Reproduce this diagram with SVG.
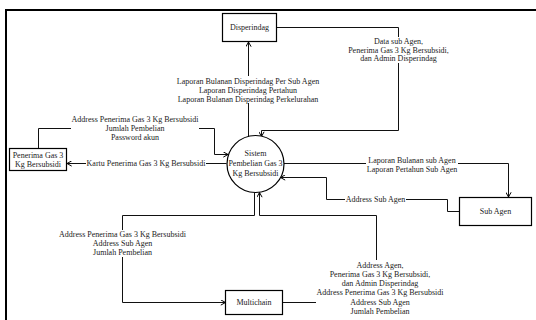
<svg xmlns="http://www.w3.org/2000/svg" width="536" height="320" viewBox="0 0 536 320">
  <defs>
    <marker id="open" viewBox="0 0 6 6" refX="5.5" refY="3" markerWidth="6" markerHeight="6" markerUnits="userSpaceOnUse" orient="auto">
      <path d="M0.8,0.4 L5.5,3 L0.8,5.6" fill="none" stroke="#000" stroke-width="1"/>
    </marker>
    <style>
      .box { fill: #fff; stroke: #000; stroke-width: 1.2; }
      .flow { fill: none; stroke: #111; stroke-width: 1; }
      .arrow { marker-end: url(#open); }
      .bg { fill: #fff; stroke: none; }
      text { font-family: "Liberation Serif", "Times New Roman", serif; font-size: 8px; fill: #1a1a1a; text-anchor: middle; }
    </style>
  </defs>
  <rect width="536" height="320" fill="#fff"/>
  <!-- page frame -->
  <path d="M6,321 V10 H537" fill="none" stroke="#000" stroke-width="2"/>

  <g id="connectors">
    <!-- Sistem -> Disperindag -->
    <path class="flow arrow" d="M248.5,137 V42"/>
    <rect class="bg" x="178" y="76" width="141" height="27"/>
    <text x="248" y="83.8">Laporan Bulanan Disperindag Per Sub Agen</text>
    <text x="248" y="92.8">Laporan Disperindag Pertahun</text>
    <text x="248" y="101.8">Laporan Bulanan Disperindag Perkelurahan</text>

    <!-- Disperindag -> Sistem -->
    <path class="flow arrow" d="M276.5,27.5 H398.5 V130.5 H261.5 V136.5"/>
    <rect class="bg" x="347" y="37" width="103" height="26"/>
    <text x="398.5" y="44.3">Data sub Agen,</text>
    <text x="398.5" y="52.8">Penerima Gas 3 Kg Bersubsidi,</text>
    <text x="398.5" y="61.3">dan Admin Disperindag</text>

    <!-- Penerima -> Sistem -->
    <path class="flow arrow" d="M38.5,148.5 V128.5 H214.5 V154.5 H228"/>
    <rect class="bg" x="71" y="115" width="128" height="26"/>
    <text x="135" y="122.3">Address Penerima Gas 3 Kg Bersubsidi</text>
    <text x="135" y="131.3">Jumlah Pembelian</text>
    <text x="135" y="140.3">Password akun</text>

    <!-- Sistem -> Penerima -->
    <path class="flow arrow" d="M226.5,163.5 H67"/>
    <rect class="bg" x="86" y="159" width="120" height="9"/>
    <text x="146" y="166.3">Kartu Penerima Gas 3 Kg Bersubsidi</text>

    <!-- Sistem -> Sub Agen -->
    <path class="flow arrow" d="M283.5,163.5 H508.5 V197"/>
    <rect class="bg" x="366" y="156" width="92" height="18"/>
    <text x="412" y="163.3">Laporan Bulanan sub Agen</text>
    <text x="412" y="172.3">Laporan Pertahun Sub Agen</text>

    <!-- Sub Agen -> Sistem -->
    <path class="flow arrow" d="M459.5,211.5 H447.5 V199.5 H326.5 V177.5 H280.5"/>
    <rect class="bg" x="345" y="195" width="61" height="9"/>
    <text x="375.5" y="202.3">Address Sub Agen</text>

    <!-- Sistem -> Multichain -->
    <path class="flow arrow" d="M254.5,192.5 V215.5 H122.5 V302.5 H225.5"/>
    <rect class="bg" x="59" y="230" width="128" height="27"/>
    <text x="122.5" y="237.3">Address Penerima Gas 3 Kg Bersubsidi</text>
    <text x="122.5" y="246.3">Address Sub Agen</text>
    <text x="122.5" y="255.3">Jumlah Pembelian</text>

    <!-- Multichain -> Sistem -->
    <path class="flow arrow" d="M282.5,302.5 H376.5 V215.5 H259.5 V192.5"/>
    <rect class="bg" x="316" y="260" width="128" height="56"/>
    <text x="380" y="267.8">Address Agen,</text>
    <text x="380" y="277">Penerima Gas 3 Kg Bersubsidi,</text>
    <text x="380" y="286.2">dan Admin Disperindag</text>
    <text x="380" y="295.4">Address Penerima Gas 3 Kg Bersubsidi</text>
    <text x="380" y="304.6">Address Sub Agen</text>
    <text x="380" y="313.8">Jumlah Pembelian</text>
  </g>

  <g id="disperindag">
    <rect class="box" x="222.5" y="13.5" width="54" height="28"/>
    <text x="249.5" y="30.3">Disperindag</text>
  </g>

  <g id="sistem">
    <circle cx="255.5" cy="164" r="28.5" fill="#fff" stroke="#000" stroke-width="1.2"/>
    <text x="255.5" y="156.3">Sistem</text>
    <text x="255.5" y="166.3">Pembelian Gas 3</text>
    <text x="255.5" y="176.3">Kg Bersubsidi</text>
  </g>

  <g id="penerima">
    <rect class="box" x="9.5" y="148.5" width="57" height="22"/>
    <text x="38" y="158.3">Penerima Gas 3</text>
    <text x="38" y="166.8">Kg Bersubsidi</text>
  </g>

  <g id="sub-agen">
    <rect class="box" x="459.5" y="197.5" width="72" height="28"/>
    <text x="495.5" y="214.3">Sub Agen</text>
  </g>

  <g id="multichain">
    <rect class="box" x="225.5" y="290.5" width="57" height="24"/>
    <text x="254" y="305.3">Multichain</text>
  </g>
</svg>
